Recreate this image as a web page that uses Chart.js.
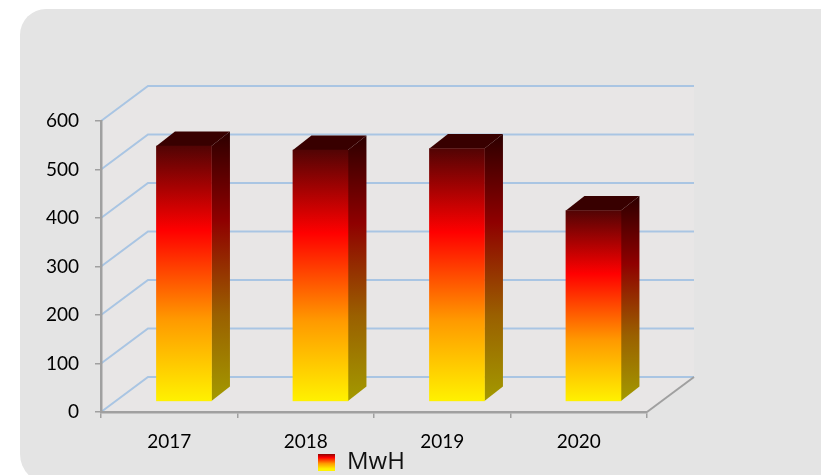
<!DOCTYPE html>
<html>
<head>
<meta charset="utf-8">
<style>
  html, body { margin: 0; padding: 0; background: #fff; overflow: hidden; }
  #panel { position: absolute; left: 20px; top: 9px; width: 801px; height: 475px; background: #e4e4e4; border-radius: 26px 0 0 30px; }
  #wrap { position: absolute; left: 0; top: 0; width: 821px; height: 475px; }
</style>
<script src="https://cdn.jsdelivr.net/npm/chart.js@4"></script>
</head>
<body>
<div id="panel"></div>
<div id="wrap"><canvas id="chart" width="821" height="475"></canvas></div>
<script>
const years = ['2017', '2018', '2019', '2020'];
const mwh = [527, 519, 522, 394];
const yTicks = [0, 100, 200, 300, 400, 500, 600];

// fake 3d offsets, px
const wallDx = 47, wallDy = -35;
const barDx = 18.5, barDy = -14.5;
const shiftX = 14.7, shiftY = -10.3;

const canvas = document.getElementById('chart');
const ctx = canvas.getContext('2d');

function fireGradient(top, bottom) {
  const g = ctx.createLinearGradient(0, top, 0, bottom);
  g.addColorStop(0, '#520404');
  g.addColorStop(0.33, '#ff0000');
  g.addColorStop(0.68, '#ff9a00');
  g.addColorStop(1, '#fff200');
  return g;
}

function sideGradient(top, bottom) {
  const g = ctx.createLinearGradient(0, top, 0, bottom);
  g.addColorStop(0, '#2c0000');
  g.addColorStop(0.33, '#8f0000');
  g.addColorStop(0.68, '#9a6000');
  g.addColorStop(1, '#a39a00');
  return g;
}

function poly(c, pts, fill) {
  c.beginPath();
  pts.forEach((p, i) => i ? c.lineTo(p[0], p[1]) : c.moveTo(p[0], p[1]));
  c.closePath();
  c.fillStyle = fill;
  c.fill();
}

// back wall, floor and the bent gridlines
const wallPlugin = {
  id: 'wall',
  beforeDraw(chart) {
    const c = chart.ctx, a = chart.chartArea, y = chart.scales.y;
    poly(c, [[a.left, a.top], [a.left + wallDx, a.top + wallDy], [a.right + wallDx, a.top + wallDy],
      [a.right + wallDx, a.bottom + wallDy], [a.right, a.bottom], [a.left, a.bottom]], '#e8e6e6');
    c.save();
    c.lineWidth = 2;
    c.strokeStyle = '#a9c5e3';
    yTicks.forEach(v => {
      const py = y.getPixelForValue(v);
      c.beginPath();
      c.moveTo(a.left, py);
      c.lineTo(a.left + wallDx, py + wallDy);
      c.lineTo(a.right + wallDx, py + wallDy);
      c.stroke();
    });
    c.strokeStyle = '#a0a0a0';
    c.beginPath();
    c.moveTo(a.right, a.bottom);
    c.lineTo(a.right + wallDx, a.bottom + wallDy);
    c.stroke();
    c.restore();
  },
  afterLayout(chart) {
    // legend sits under the axis, overlapping the 2018 label
    const l = chart.legend;
    l.left = 316; l.right = 420; l.top = 450; l.bottom = 475;
  }
};

// side and top faces, taken from the real bar elements
const extrudePlugin = {
  id: 'extrude',
  beforeDatasetDraw(chart) {
    const c = chart.ctx;
    c.save();
    c.translate(shiftX, shiftY);
    chart.getDatasetMeta(0).data.forEach(bar => {
      const l = bar.x - bar.width / 2, r = bar.x + bar.width / 2;
      poly(c, [[r, bar.y], [r + barDx, bar.y + barDy], [r + barDx, bar.base + barDy], [r, bar.base]],
        sideGradient(bar.y + barDy, bar.base));
      poly(c, [[l, bar.y], [l + barDx, bar.y + barDy], [r + barDx, bar.y + barDy], [r, bar.y]], '#380000');
    });
  },
  afterDatasetDraw(chart) {
    chart.ctx.restore();
  }
};

new Chart(ctx, {
  type: 'bar',
  data: {
    labels: years,
    datasets: [{
      label: 'MwH',
      data: mwh,
      barThickness: 55,
      borderWidth: 0,
      backgroundColor: c => fireGradient(c.chart.scales.y.getPixelForValue(c.raw), c.chart.scales.y.getPixelForValue(0))
    }]
  },
  options: {
    responsive: false,
    animation: false,
    layout: { padding: { left: 0, right: 174, top: 121, bottom: 0 } },
    plugins: {
      tooltip: { enabled: false },
      legend: {
        position: 'chartArea',
        labels: {
          boxWidth: 17,
          boxHeight: 17,
          padding: 2,
          font: { family: 'Open Sans', size: 24 },
          generateLabels: () => [{ text: 'MwH', fontColor: '#111', fillStyle: fireGradient(452, 469), lineWidth: 0, strokeStyle: 'transparent', datasetIndex: 0 }]
        }
      }
    },
    scales: {
      x: {
        afterFit: s => { s.height = 63; },
        border: { color: '#a0a0a0', width: 2.5 },
        grid: { drawOnChartArea: false, color: '#a0a0a0', tickLength: 6, lineWidth: 1.5 },
        ticks: { color: '#000', padding: 12, maxRotation: 0, font: { family: 'Lato', size: 19 } }
      },
      y: {
        min: 0,
        max: 600,
        afterFit: s => { s.width = 101; },
        border: { color: '#a0a0a0', width: 2.5 },
        grid: { drawOnChartArea: false, color: '#a0a0a0', tickLength: 6, lineWidth: 1.5 },
        ticks: { color: '#000', padding: 16, stepSize: 100, font: { family: 'Lato', size: 19 } }
      }
    }
  },
  plugins: [wallPlugin, extrudePlugin]
});
</script>
</body>
</html>
